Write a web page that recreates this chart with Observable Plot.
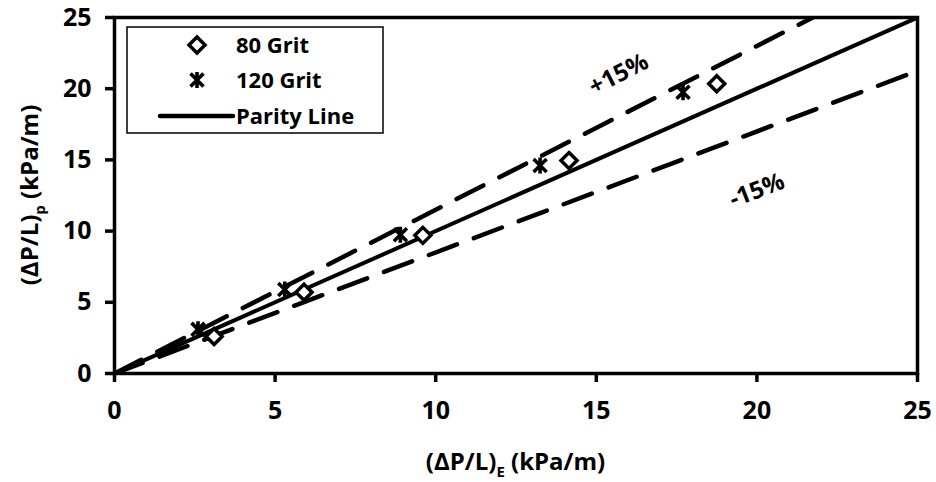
<!DOCTYPE html>
<html>
<head>
<meta charset="utf-8">
<script src="https://cdn.jsdelivr.net/npm/d3@7"></script>
<script src="https://cdn.jsdelivr.net/npm/@observablehq/plot@0.6"></script>
<style>
  html, body { margin: 0; padding: 0; background: #fff; }
  #chart { width: 936px; height: 482px; }
</style>
</head>
<body>
<div id="chart"></div>
<script>
// ---- data ----
const grit80X = [3.1, 5.9, 9.6, 14.15, 18.75];
const grit80Y = [2.6, 5.7, 9.7, 14.95, 20.35];
const grit120X = [2.6, 5.3, 8.9, 13.25, 17.7];
const grit120Y = [3.1, 5.9, 9.75, 14.6, 19.75];
const xTicks = [0, 5, 10, 15, 20, 25];
const yTicks = [0, 5, 10, 15, 20, 25];
const lineX = [0, 25];
const bandFactors = [1.15, 0.85];
const bandLabels = ["+15%", "-15%"];
const bandLabelX = [15.7, 20.0];
const bandLabelY = [21.0, 12.85];
const seriesNames = ["80 Grit", "120 Grit", "Parity Line"];

const pts80 = grit80X.map((x, i) => ({x, y: grit80Y[i]}));
const pts120 = grit120X.map((x, i) => ({x, y: grit120Y[i]}));
const parity = lineX.map(x => ({x, y: x}));
const bands = bandFactors.flatMap((f, k) => lineX.map(x => ({x, y: x * f, k})));
const bandText = bandLabels.map((t, i) => ({t, x: bandLabelX[i], y: bandLabelY[i], a: i === 0 ? -27 : -21}));

const diamondSym = {
  draw(ctx) { const r = 8; ctx.moveTo(0, -r); ctx.lineTo(r, 0); ctx.lineTo(0, r); ctx.lineTo(-r, 0); ctx.closePath(); }
};
const starSym = {
  draw(ctx) { const r = 8, d = 6.5;
    ctx.moveTo(0, -r); ctx.lineTo(0, r);
    ctx.moveTo(-d, -d); ctx.lineTo(d, d);
    ctx.moveTo(-d, d); ctx.lineTo(d, -d); }
};

const font = "'Open Sans', 'DejaVu Sans', sans-serif";

const plot = Plot.plot({
  width: 936,
  height: 482,
  marginLeft: 114,
  marginRight: 19,
  marginTop: 17,
  marginBottom: 109,
  style: {fontFamily: font, fontWeight: "bold", fontSize: "25px", color: "#000", background: "#fff"},
  x: {domain: [0, 25], ticks: xTicks},
  y: {domain: [0, 25], ticks: yTicks},
  marks: [
    Plot.line(bands, {x: "x", y: "y", z: "k", stroke: "#000", strokeWidth: 4.5, strokeDasharray: "30,18", strokeLinecap: "round", clip: true}),
    Plot.line(parity, {x: "x", y: "y", stroke: "#000", strokeWidth: 4, clip: true}),
    Plot.dot(pts80, {x: "x", y: "y", symbol: diamondSym, r: 5, fill: "#fff", stroke: "#000", strokeWidth: 3.5}),
    Plot.dot(pts120, {x: "x", y: "y", symbol: starSym, r: 5, fill: "none", stroke: "#000", strokeWidth: 3.6}),
    Plot.text(bandText, {x: "x", y: "y", text: "t", rotate: "a", fontSize: 24, fontWeight: "bold", fill: "#000"}),
    Plot.frame({stroke: "#000", strokeWidth: 3.5}),
    Plot.axisX({ticks: xTicks, tickSize: 9, tickPadding: 19, strokeWidth: 3.5, fontSize: 25, fontWeight: "bold", label: null}),
    Plot.axisY({ticks: yTicks, tickSize: 9, tickPadding: 14, strokeWidth: 3.5, fontSize: 25, fontWeight: "bold", label: null})
  ]
});

document.getElementById("chart").appendChild(plot);

// ---- axis titles and legend ----
const svg = d3.select(plot);
const xs = plot.scale("x"), ys = plot.scale("y");
const cx = (xs.range[0] + xs.range[1]) / 2;
const cy = (ys.range[0] + ys.range[1]) / 2;

const xt = svg.append("text")
  .attr("x", cx).attr("y", 470)
  .attr("text-anchor", "middle")
  .style("font-family", font).style("font-size", "24px").style("font-weight", "bold").attr("fill", "#000");
xt.append("tspan").text("(ΔP/L)");
xt.append("tspan").text("E").style("font-size", "15px").attr("dy", "7");
xt.append("tspan").text(" (kPa/m)").attr("dy", "-7");

const yt = svg.append("text")
  .attr("transform", `translate(38,${cy}) rotate(-90)`)
  .attr("text-anchor", "middle")
  .style("font-family", font).style("font-size", "24px").style("font-weight", "bold").attr("fill", "#000");
yt.append("tspan").text("(ΔP/L)");
yt.append("tspan").text("p").style("font-size", "15px").attr("dy", "7");
yt.append("tspan").text(" (kPa/m)").attr("dy", "-7");

const lg = svg.append("g").style("font-family", font).style("font-weight", "bold").style("font-size", "22px");
lg.append("rect").attr("x", 127).attr("y", 27).attr("width", 256).attr("height", 106)
  .attr("fill", "#fff").attr("stroke", "#000").attr("stroke-width", 1.5);
const rowsY = [45, 80, 116];
lg.append("path").attr("d", (() => { const p = d3.path(); diamondSym.draw(p); return p.toString(); })())
  .attr("transform", `translate(197,${rowsY[0]})`).attr("fill", "#fff").attr("stroke", "#000").attr("stroke-width", 3.5);
lg.append("path").attr("d", (() => { const p = d3.path(); starSym.draw(p); return p.toString(); })())
  .attr("transform", `translate(197,${rowsY[1]})`).attr("fill", "none").attr("stroke", "#000").attr("stroke-width", 3.6);
lg.append("line").attr("x1", 160).attr("x2", 233).attr("y1", rowsY[2]).attr("y2", rowsY[2])
  .attr("stroke", "#000").attr("stroke-width", 4.5).attr("stroke-linecap", "round");
seriesNames.forEach((n, i) => {
  lg.append("text").attr("x", 236).attr("y", rowsY[i]).attr("dy", "0.35em")
    .attr("text-anchor", "start").attr("fill", "#000").text(n);
});
</script>
</body>
</html>
